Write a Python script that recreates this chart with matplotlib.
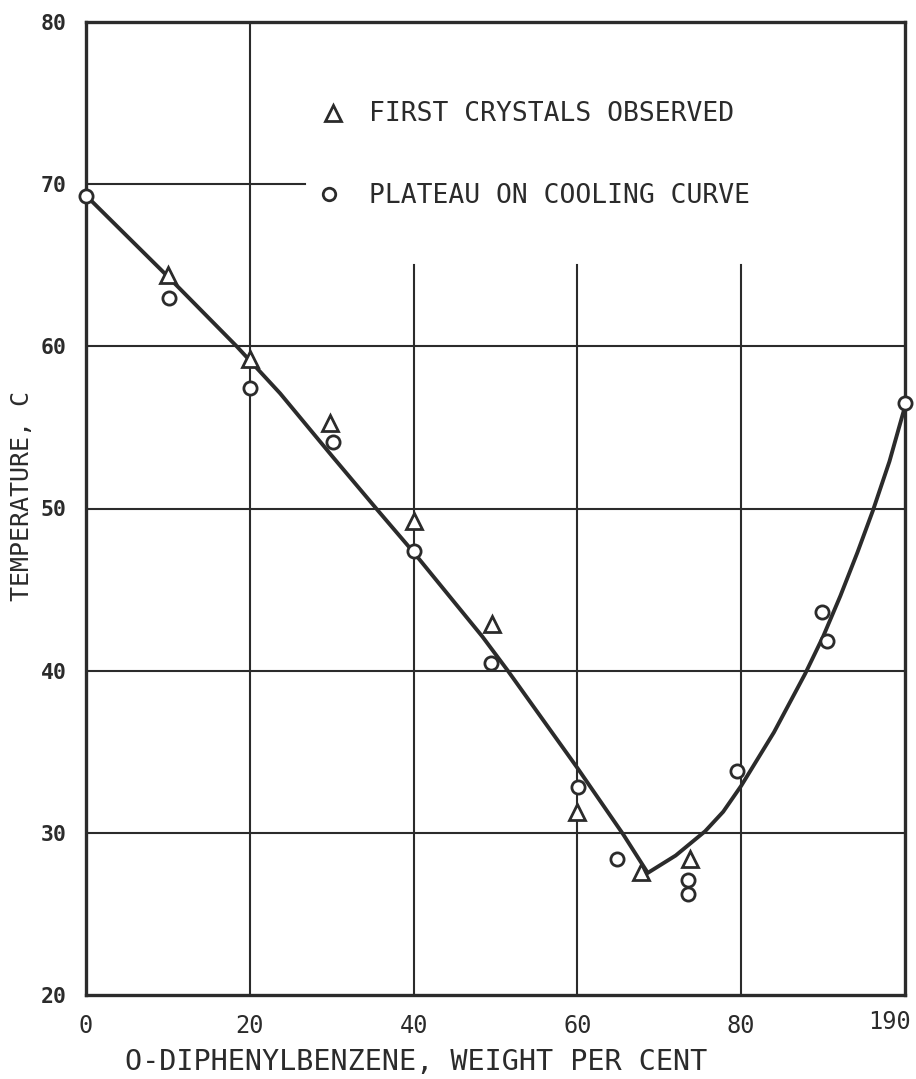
import matplotlib
matplotlib.use("Agg")
import matplotlib.pyplot as plt
import matplotlib.transforms as mtransforms

# Freezing-point measurements, o-diphenylbenzene in the binary mixture
tri_x = [10.0, 20.0, 29.8, 40.0, 49.6, 60.0, 67.8, 73.7]
tri_y = [64.4, 59.2, 55.3, 49.2, 42.9, 31.3, 27.6, 28.4]

circ_x = [0.0, 10.1, 20.0, 30.1, 40.0, 49.5, 60.1, 64.8, 73.5, 73.5, 79.5, 89.9, 90.5, 100.0]
circ_y = [69.3, 63.0, 57.4, 54.1, 47.4, 40.5, 32.8, 28.4, 27.1, 26.2, 33.8, 43.6, 41.8, 56.5]

# Liquidus curves drawn through the points
left_x = [0.0, 10.0, 18.4, 23.7, 30.1, 35.6, 40.0, 48.4, 51.5, 60.0, 65.6, 68.5]
left_y = [69.3, 64.3, 60.0, 57.1, 53.2, 49.9, 47.3, 42.1, 40.0, 34.0, 29.9, 27.6]
right_x = [68.5, 72.0, 75.6, 77.8, 80.0, 84.0, 87.8, 90.0, 92.1, 94.2, 96.1, 98.1, 100.0]
right_y = [27.5, 28.6, 30.1, 31.3, 32.9, 36.2, 39.8, 42.1, 44.6, 47.3, 49.9, 52.9, 56.3]

x_ticks = [0, 20, 40, 60, 80, 100]
x_tick_labels = ["0", "20", "40", "60", "80", "190"]
y_ticks = [20, 30, 40, 50, 60, 70, 80]

INK = "#2b2b2b"
MONO = "DejaVu Sans Mono"

fig = plt.figure(figsize=(9.16, 10.79), dpi=100)
ax = fig.add_axes([86 / 916, 1 - 995 / 1079, (905 - 86) / 916, (995 - 22) / 1079])
ax.set_xlim(0, 100)
ax.set_ylim(20, 80)

# grid: some lines stop short below the legend area
grid_kw = dict(color=INK, lw=1.5, zorder=1)
ax.plot([20, 20], [20, 80], **grid_kw)
for gx in (40, 60, 80):
    ax.plot([gx, gx], [20, 65], **grid_kw)
for gy in (30, 40, 50, 60):
    ax.plot([0, 100], [gy, gy], **grid_kw)
ax.plot([0, 26.7], [70, 70], **grid_kw)

ax.plot(left_x, left_y, color=INK, lw=2.8, zorder=3, solid_capstyle="round",
        solid_joinstyle="round")
ax.plot(right_x, right_y, color=INK, lw=2.8, zorder=3, solid_capstyle="round",
        solid_joinstyle="round")

ax.plot(tri_x, tri_y, linestyle="none", marker="^", ms=12, mfc="white",
        mec=INK, mew=2.0, zorder=4)
ax.plot(circ_x, circ_y, linestyle="none", marker="o", ms=9.5, mfc="white",
        mec=INK, mew=2.0, zorder=4, clip_on=False)

# legend entries
ax.plot([30.2], [74.4], linestyle="none", marker="^", ms=12, mfc="white",
        mec=INK, mew=2.0)
ax.plot([29.7], [69.4], linestyle="none", marker="o", ms=9, mfc="white",
        mec=INK, mew=2.0)
leg_font = dict(family=MONO, fontsize=19, color=INK, va="center", ha="left")
ax.text(34.6, 74.3, "FIRST CRYSTALS OBSERVED", **leg_font)
ax.text(34.6, 69.3, "PLATEAU ON COOLING CURVE", **leg_font)

for s in ax.spines.values():
    s.set_linewidth(2.4)
    s.set_color(INK)

ax.set_xticks(x_ticks)
ax.set_xticklabels(x_tick_labels)
ax.set_yticks(y_ticks)
ax.tick_params(length=0)
ax.tick_params(axis="x", pad=14, labelsize=17, labelcolor=INK)
ax.tick_params(axis="y", pad=14, labelsize=15.5, labelcolor=INK)
for lab in ax.get_xticklabels():
    lab.set_family(MONO)
for lab in ax.get_yticklabels():
    lab.set_family(MONO)
    lab.set_fontweight("bold")
last = ax.get_xticklabels()[-1]
last.set_ha("right")
last.set_transform(last.get_transform()
                   + mtransforms.ScaledTranslation(6 / 100, 4 / 100, fig.dpi_scale_trans))

fig.text(416 / 916, 1 - 1062 / 1079, "O-DIPHENYLBENZENE, WEIGHT PER CENT",
         family=MONO, fontsize=20.5, color=INK, ha="center", va="center")
fig.text(22 / 916, 1 - 496 / 1079, "TEMPERATURE, C", rotation=90,
         family=MONO, fontsize=18, color=INK, ha="center", va="center")

fig.savefig("out.png", dpi=100, facecolor="white")
